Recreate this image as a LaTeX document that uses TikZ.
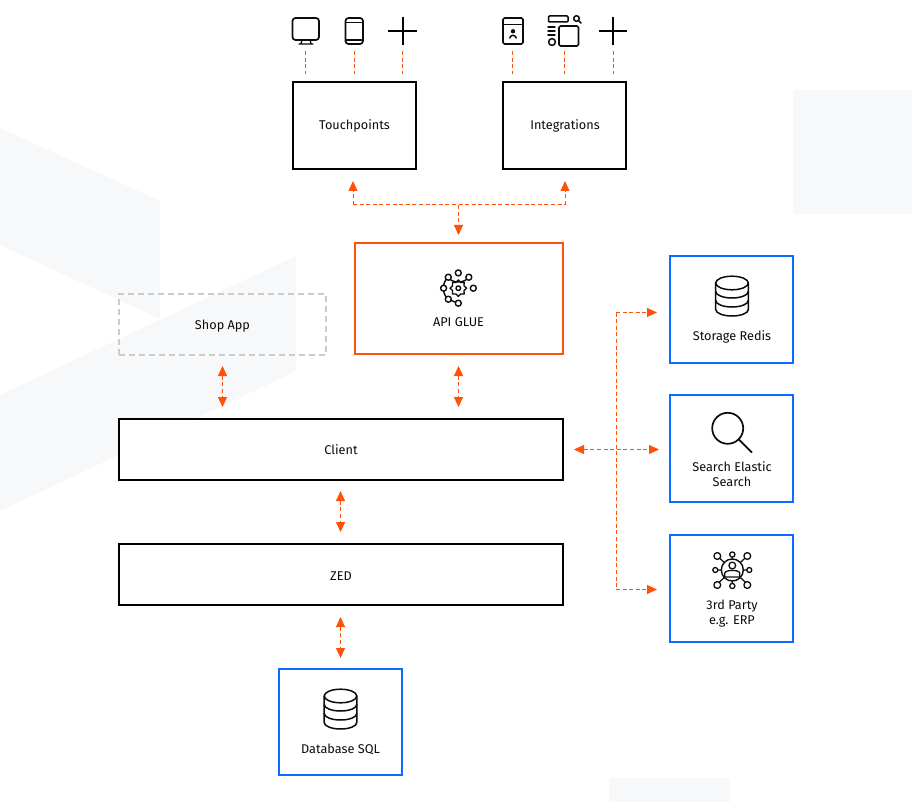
\documentclass[tikz,border=0pt]{standalone}
\usepackage{fontspec}
\setmainfont{Fira Sans}
\usetikzlibrary{arrows.meta}
\definecolor{bgshape}{HTML}{F7F8FA}
\definecolor{flow}{HTML}{FF5108}
\definecolor{blueb}{HTML}{0A6CFF}
\definecolor{ink}{HTML}{0C0C0C}
\tikzset{
  boxbase/.style={draw,line width=2.3pt,minimum width=#1,outer sep=0pt,inner sep=0pt,font=\fontsize{12.7}{14.5}\selectfont,text=ink,align=center},
  blackbox/.style={boxbase=#1,draw=black,fill=white},
  orangebox/.style={boxbase=#1,draw=flow,fill=white},
  bluebox/.style={boxbase=#1,draw=blueb,fill=white},
  dashbox/.style={boxbase=#1,draw=black!20,dash pattern=on 6pt off 4pt},
  lbl/.style={font=\fontsize{12.7}{14.5}\selectfont,text=ink,align=center,inner sep=0pt},
  flowline/.style={draw=flow,line width=1pt,dash pattern=on 4pt off 2.6pt},
  tipped/.style={flowline,{Triangle[length=10pt,width=9pt,fill=flow]}-{Triangle[length=10pt,width=9pt,fill=flow]}},
  endtip/.style={flowline,-{Triangle[length=10pt,width=9pt,fill=flow]}},
  icon/.style={draw=ink,line width=1.5pt,line join=round,line cap=round},
  thick icon/.style={draw=black,line width=2.3pt},
  pics/dbicon/.style={code={
    \draw[icon] (0,-25.5) ellipse[x radius=16.3,y radius=6.8];
    \draw[icon] (-16.3,-25.5) -- (-16.3,1) arc[start angle=180,end angle=0,x radius=16.3,y radius=6.5] -- (16.3,-25.5);
    \foreach \yy in {-17,-8}{
      \draw[icon] (-16.3,\yy) arc[start angle=180,end angle=0,x radius=16.3,y radius=6.5];
    }
  }}
}
\begin{document}
\begin{tikzpicture}[x=1pt,y=-1pt]
\useasboundingbox (0,0) rectangle (912,802);
\fill[white] (0,0) rectangle (912,802);
% background shapes
\fill[bgshape] (0,128) -- (160,201) -- (160,319) -- (0,245) -- cycle;
\fill[bgshape] (296,256) -- (296,371) -- (0,511) -- (0,395) -- cycle;
\fill[bgshape] (793,90) rectangle (912,214);
\fill[bgshape] (609,778) rectangle (730,802);

% boxes
\node[blackbox=123,minimum height=87] (tp) at (354.5,125.5) {};
\node[lbl] (tplabel) at (354.5,125.5) {Touchpoints};
\node[blackbox=123,minimum height=87] (ig) at (564.5,125.5) {};
\node[lbl] (iglabel) at (565,125.5) {Integrations};
\node[orangebox=208,minimum height=111] (api) at (459,298.5) {};
\node[lbl] (apilabel) at (458.5,322.5) {API GLUE};
\node[dashbox=207,minimum height=61] (shop) at (222.5,324.5) {};
\node[lbl] (shoplabel) at (222.5,326.5) {Shop App};
\node[blackbox=444,minimum height=61] (client) at (341,449.5) {};
\node[lbl] (clientlabel) at (341,450) {Client};
\node[blackbox=444,minimum height=61] (zed) at (341,574.5) {};
\node[lbl] (zedlabel) at (341,576) {ZED};
\node[bluebox=123,minimum height=106] (db) at (340.5,722) {};
\node[lbl] (dblabel) at (340.5,749) {Database SQL};
\node[bluebox=123,minimum height=107] (redis) at (731.5,309.5) {};
\node[lbl] (redislabel) at (732,336.7) {Storage Redis};
\node[bluebox=123,minimum height=107] (search) at (731.5,448.5) {};
\node[lbl] (searchlabel) at (732,474) {Search Elastic\\Search};
\node[bluebox=123,minimum height=107] (erp) at (731.5,588.5) {};
\node[lbl] (erplabel) at (732,613.5) {3rd Party\\e.g. ERP};

% free ends
\coordinate (tpArrow) at (353,181);
\coordinate (igArrow) at (565,181);
\coordinate (topJoin) at (458.5,205);
\coordinate (apiArrow) at (458.5,235);
\draw[endtip] (353,205) -- (tpArrow);
\draw[endtip] (565,205) -- (igArrow);
\draw[flowline] (353,205) -- (565,205);
\draw[endtip] (topJoin) -- (apiArrow);

\draw[tipped] ([yshift=-11]shop.south) -- ([yshift=12]shop.south |- client.north);
\draw[tipped] (458.5,366) -- (458.5,407);
\draw[tipped] (340.5,491) -- (340.5,532);
\draw[tipped] (340.5,617) -- (340.5,658);
\draw[tipped] (574,449.5) -- (659,449.5);
\coordinate (busTop) at (616,312.5);
\coordinate (busBot) at (616,589.5);
\draw[flowline] (busTop) -- (busBot);
\draw[endtip] (busTop) -- (657,312.5);
\draw[endtip] (busBot) -- (657,589.5);

% top dashes
\foreach \xx in {305.5,354.5,402.5,512.5,564.5,613}{
  \draw[draw=flow,line width=1pt,dash pattern=on 4pt off 2.6pt] (\xx,51) -- (\xx,74);
}

% monitor
\draw[icon,line width=1.7pt,rounded corners=3pt] (292.5,18) rectangle (319,40);
\draw[icon,line width=1.3pt] (302,40) -- (301,43.5) (310,40) -- (311,43.5) (299,44) -- (313,44);
% phone
\draw[icon,line width=1.7pt,rounded corners=3pt] (345.5,18) rectangle (363,44);
\draw[icon,line width=1.2pt] (345.5,22.5) -- (363,22.5) (345.5,40) -- (363,40);
% plus
\draw[thick icon] (388,31) -- (417,31) (402.8,17) -- (402.8,45);
% card
\draw[icon,line width=1.7pt,rounded corners=1.5pt] (503,18) rectangle (523,44);
\draw[icon,line width=1.4pt] (503,24.5) -- (523,24.5);
\fill[ink] (513,31.3) circle (2.2);
\draw[icon,line width=1.5pt] (509.8,38) .. controls (510.5,34.5) and (515.5,34.5) .. (516.2,38);
% catalogue
\draw[icon,line width=1.5pt,rounded corners=1pt] (548.5,16) rectangle (568,22);
\draw[icon,line width=1.5pt] (576.5,18.5) circle (2.8) (578.8,20.8) -- (581,23);
\draw[icon,line width=1.4pt] (548,27) -- (555,27) (548,31) -- (555,31) (548,35) -- (555,35);
\draw[icon,line width=1.5pt] (552,42) circle (3.4);
\draw[icon,line width=1.6pt,rounded corners=1.5pt] (559,26) rectangle (578.5,46);
% plus 2
\draw[thick icon] (599,31) -- (627,31) (613,17) -- (613,45);

% gear network
\begin{scope}[shift={(458.3,288.2)}]
  \draw[icon,line width=1.4pt] (-10.6,-10.6) arc[start angle=135,end angle=45,radius=15];
  \draw[icon,line width=1.4pt] (-15,0) arc[start angle=180,end angle=135,radius=15];
  \draw[icon,line width=1.4pt] (-15,0) arc[start angle=180,end angle=225,radius=15];
  \draw[icon,line width=1.4pt] (-10.5,11) -- (0,15);
  \foreach \px/\py in {0/-15.3,-10/-11,10.5/-11,-14.7/0,15/0,-10/11,0/15}{
    \draw[icon,line width=1.4pt,fill=white] (\px,\py) circle (3);
  }
  \draw[icon,line width=1.3pt] (8.3,0)
    \foreach \aa in {22.5,45,...,337.5}{ -- ({(mod(\aa,45)==0 ? 8.3 : 6.2)*cos(\aa)},{(mod(\aa,45)==0 ? 8.3 : 6.2)*sin(\aa)}) } -- cycle;
  \draw[icon,line width=1.4pt] (0,0) circle (2.3);
\end{scope}

% databases
\pic at (732,308.5) {dbicon};
\pic at (340.5,721.5) {dbicon};

% magnifier
\draw[icon,line width=1.7pt] (727.7,428.3) circle (15.5);
\draw[icon,line width=1.7pt] (738.6,439.3) -- (751.7,452.3);

% third party network
\begin{scope}[shift={(732.3,570)}]
  \draw[icon,line width=1.2pt] (-15,-14) -- (15,14) (15,-14) -- (-15,14) (0,-15) -- (0,15) (-17,0) -- (17,0);
  \draw[icon,line width=1.4pt,fill=white] (0,0) circle (11);
  \foreach \px/\py/\rr in {0/-15.5/2.6,15/-14/3.4,17/0/2.5,15/15/3.4,0/16/2.6,-15/15/3.4,-17/0/2.5,-15/-14/3.4}{
    \draw[icon,line width=1.3pt,fill=white] (\px,\py) circle (\rr);
  }
  \draw[icon,line width=1.3pt] (0,-4.5) circle (3.4);
  \draw[icon,line width=1.3pt] (-7.5,7) -- (-7.5,3) .. controls (-6.5,-0.5) and (6.5,-0.5) .. (7.5,3) -- (7.5,7) -- cycle;
\end{scope}
\end{tikzpicture}
\end{document}
